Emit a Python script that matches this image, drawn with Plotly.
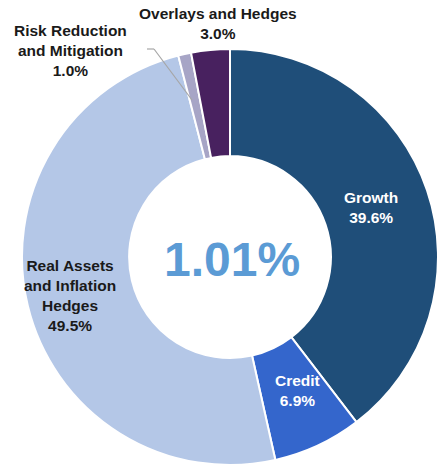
import plotly.graph_objects as go

labels = ["Growth", "Credit", "Real Assets and Inflation Hedges",
          "Risk Reduction and Mitigation", "Overlays and Hedges"]
label_lines = ["Growth", "Credit", "Real Assets<br>and Inflation<br>Hedges",
               "Risk Reduction<br>and Mitigation", "Overlays and Hedges"]
values = [39.6, 6.9, 49.5, 1.0, 3.0]
colors = ["#1F4E79", "#3466CC", "#B4C7E7", "#A7A5C6", "#48215F"]
center_value = "1.01%"

W, H = 439, 467
cx, cy, R = 230, 257, 208

fig = go.Figure(go.Pie(
    labels=labels, values=values, sort=False, direction="clockwise", rotation=0,
    hole=0.485, textinfo="none", hoverinfo="label+percent",
    marker=dict(colors=colors, line=dict(color="white", width=2)),
    domain=dict(x=[(cx - R) / W, (cx + R) / W], y=[(H - cy - R) / H, (H - cy + R) / H]),
    showlegend=False,
))

def px(x, y):
    return x / W, 1 - y / H

font_family = "Liberation Sans, Arial, sans-serif"
# label positions (pixels) and colors
pos = [(371, 207), (297, 390), (70, 295), (70, 50), (218, 24)]
fcol = ["white", "white", "#1a1a1a", "#1a1a1a", "#1a1a1a"]
annotations = []
for i in range(len(labels)):
    x, y = px(*pos[i])
    annotations.append(dict(
        x=x, y=y, xref="paper", yref="paper", showarrow=False,
        text=f"<b>{label_lines[i]}<br>{values[i]:.1f}%</b>",
        font=dict(family=font_family, size=15.5, color=fcol[i]),
        align="center", xanchor="center", yanchor="middle",
    ))
x, y = px(cx + 2, 259)
annotations.append(dict(
    x=x, y=y, xref="paper", yref="paper", showarrow=False,
    text=f"<b>{center_value}</b>",
    font=dict(family=font_family, size=48, color="#5B9BD5"),
    xanchor="center", yanchor="middle",
))

shapes = []
pts = [(147, 49), (154, 49), (192, 100)]
for (x0, y0), (x1, y1) in zip(pts[:-1], pts[1:]):
    a0, b0 = px(x0, y0)
    a1, b1 = px(x1, y1)
    shapes.append(dict(type="line", xref="paper", yref="paper", x0=a0, y0=b0, x1=a1, y1=b1,
                       line=dict(color="#A6A6A6", width=1.2)))

fig.update_layout(
    width=W, height=H, margin=dict(l=0, r=0, t=0, b=0),
    paper_bgcolor="white", plot_bgcolor="white",
    annotations=annotations, shapes=shapes,
)
fig.write_html("out.html")
